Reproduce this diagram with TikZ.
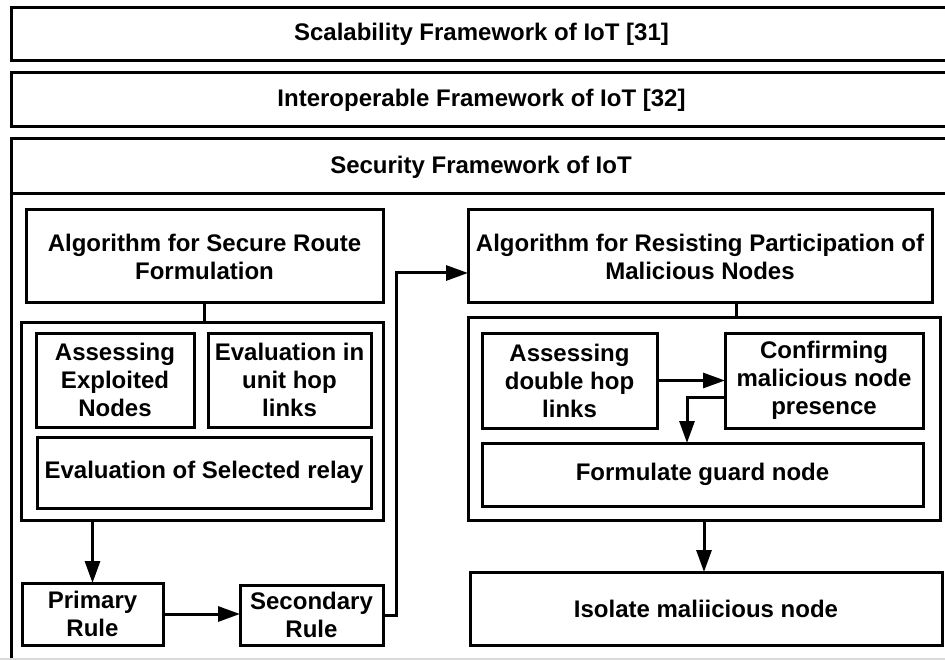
\documentclass[tikz,border=0pt]{standalone}
\usepackage{fontspec}
\setmainfont{Liberation Sans}
\usetikzlibrary{arrows.meta}
\begin{document}
\begin{tikzpicture}[x=1pt,y=-1pt,
  every node/.style={inner sep=0pt,outer sep=0pt,align=center,
    font=\bfseries\fontsize{24}{28}\selectfont},
  box/.style={draw,line width=3pt,rectangle},
  ln/.style={line width=3pt},
  arr/.style={line width=3pt,-{Triangle[length=22pt,width=15pt]}}]
\useasboundingbox (0,0) rectangle (945,660);
% outer frameworks
\node[box,minimum width=941pt,minimum height=53pt] (scal) at (481.5,34.5) {Scalability Framework of IoT [31]};
\node[box,minimum width=941pt,minimum height=54pt] (inter) at (481.5,100) {Interoperable Framework of IoT [32]};
\node[box,minimum width=941pt,minimum height=561pt] (secf) at (481.5,419.5) {};
\node (sectitle) at (481,167) {Security Framework of IoT};
\coordinate (d1) at (11,194);
\coordinate (d2) at (952,194);
\draw[ln] (d1) -- (d2);
\coordinate (g1) at (0,659);
\coordinate (g2) at (945,659);
\draw[black!15,line width=1.5pt] (g1) -- (g2);
% left column
\node[box,minimum width=357pt,minimum height=93pt] (algL) at (204.5,256.5) {Algorithm for Secure Route\\Formulation};
\node[box,minimum width=362pt,minimum height=197pt] (contL) at (202,421.5) {};
\node[box,minimum width=158pt,minimum height=94pt] (aen) at (115,380) {Assessing\\Exploited\\Nodes};
\node[box,minimum width=163pt,minimum height=94pt] (euh) at (289.5,380) {Evaluation in\\unit hop\\links};
\node[box,minimum width=334pt,minimum height=71pt] (esr) at (204,472.5) {Evaluation of Selected relay};
\node[box,minimum width=141pt,minimum height=62pt] (prim) at (92.5,614) {Primary\\Rule};
\node[box,minimum width=143pt,minimum height=60pt] (sec) at (311.5,615) {Secondary\\Rule};
% right column
\node[box,minimum width=464pt,minimum height=93pt] (algR) at (700,256.5) {Algorithm for Resisting Participation of\\Malicious Nodes};
\node[box,minimum width=472pt,minimum height=202pt] (contR) at (704,419) {};
\node[box,minimum width=175pt,minimum height=95pt] (dh) at (569.5,380.5) {Assessing\\double hop\\links};
\node[box,minimum width=198pt,minimum height=95pt] (cm) at (824,380.5) {Confirming\\malicious node\\presence};
\node[box,minimum width=441pt,minimum height=63pt] (fg) at (702.5,474.5) {Formulate guard node};
\node[box,minimum width=472pt,minimum height=73pt] (iso) at (706,608.5) {Isolate maliicious node};
% connectors
\draw[ln] (algL.south) -- (algL.south |- contL.north);
\draw[ln] (algR.south -| 736,0) -- (contR.north -| 736,0);
\draw[arr] (prim.north |- contL.south) -- (prim.north);
\draw[arr] (prim.east) -- (prim.east -| sec.west);
\coordinate (j1) at (396,273);
\draw[arr] (sec.east) -| (j1) -- (j1 -| algR.west);
\draw[arr] (dh.east) -- (dh.east -| cm.west);
\coordinate (j2) at (687,397);
\draw[arr] (cm.west |- j2) -| (j2 |- fg.north);
\draw[arr] (contR.south) -- (contR.south |- iso.north);
\end{tikzpicture}
\end{document}
